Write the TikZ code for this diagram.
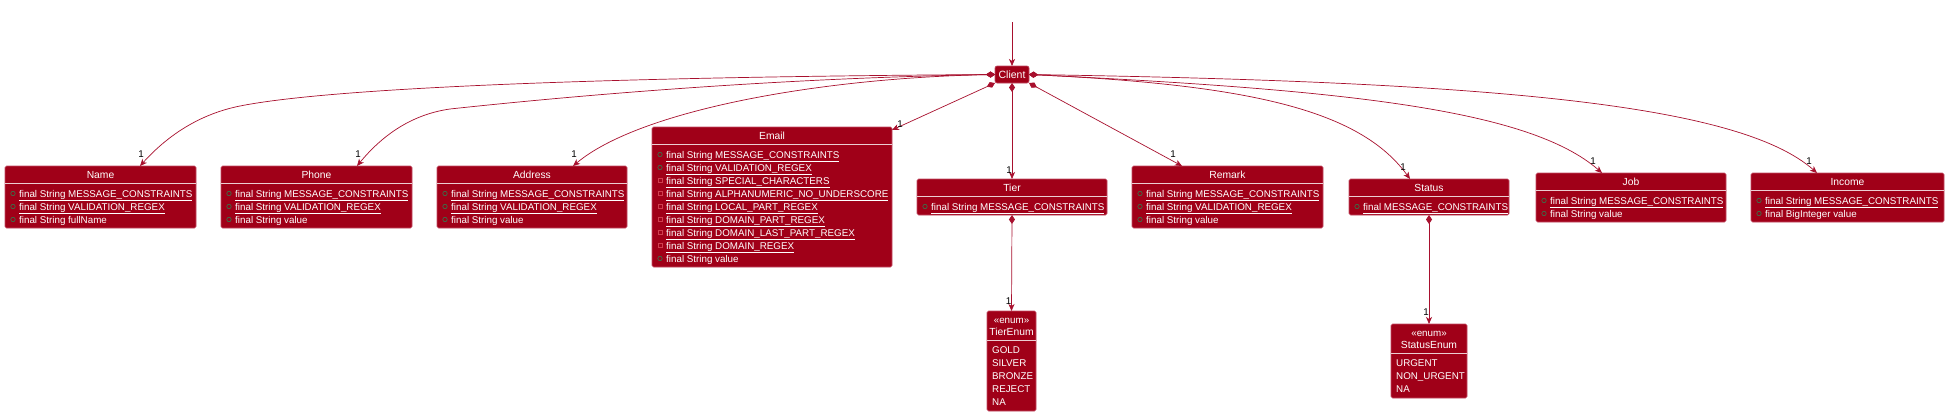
\documentclass[tikz,border=0pt]{standalone}
\usepackage{fontspec}
\setmainfont{Liberation Sans}
\usetikzlibrary{arrows.meta,calc}
\definecolor{clsfill}{HTML}{A00018}
\definecolor{clsline}{HTML}{C24A62}
\definecolor{edgecol}{HTML}{A8102E}
\definecolor{pubcol}{HTML}{2E7D4F}
\definecolor{privcol}{HTML}{D04050}
\tikzset{
  cls/.style={draw=clsline, fill=clsfill, line width=0.6pt, inner sep=0pt, outer sep=0pt, rounded corners=1.5pt},
  ttl/.style={text=white, font=\fontsize{10.3}{12}\selectfont, inner sep=0pt, anchor=base},
  fld/.style={text=white, font=\fontsize{9.8}{11}\selectfont, inner sep=0pt, anchor=base west},
  sepl/.style={draw=white!80!clsfill, line width=0.6pt},
  edge/.style={draw=edgecol, line width=0.7pt},
  tipend/.style={edge, -{Stealth[length=7pt,width=6pt,inset=2pt]}},
  comp/.style={edge, {Diamond[length=9pt,width=6pt]}-{Stealth[length=7pt,width=6pt,inset=2pt]}},
  lbl/.style={font=\fontsize{9.8}{11}\selectfont, text=black, inner sep=0pt},
  pubic/.style={draw=pubcol, line width=0.6pt},
  privic/.style={draw=privcol, line width=0.6pt},
}
% id, x, y, w, h, title
\newcommand\umlclass[6]{%
  \node[cls, minimum width=#4pt, minimum height=#5pt, anchor=north west] (#1) at (#2,#3) {};
  \node[ttl] (#1-title) at ($(#1.north west)+(#4/2,12.2)$) {#6};
  \draw[sepl] ($(#1.north west)+(0,17.5)$) -- ($(#1.north east)+(0,17.5)$);
}
% id, x, y, w, h, name
\newcommand\umlenum[6]{%
  \node[cls, minimum width=#4pt, minimum height=#5pt, anchor=north west] (#1) at (#2,#3) {};
  \node[ttl, font=\fontsize{9.8}{11}\selectfont] (#1-st) at ($(#1.north west)+(#4/2,12.5)$) {«enum»};
  \node[ttl] (#1-title) at ($(#1.north west)+(#4/2,24.7)$) {#6};
  \draw[sepl] ($(#1.north west)+(0,29)$) -- ($(#1.north east)+(0,29)$);
}
% id, row centre offset, text
\newcommand\umlpub[3]{%
  \draw[pubic] ($(#1.north west)+(8,#2)$) circle (2.2pt);
  \node[fld] at ($(#1.north west)+(14,#2+3.5)$) {#3};
}
\newcommand\umlpriv[3]{%
  \draw[privic] ($(#1.north west)+(8,#2)+(-2.1,-2.1)$) rectangle ++(4.2,4.2);
  \node[fld] at ($(#1.north west)+(14,#2+3.5)$) {#3};
}
\newcommand\umlval[3]{%
  \node[fld] at ($(#1.north west)+(5,#2+3.5)$) {#3};
}
\begin{document}
\begin{tikzpicture}[x=1pt,y=-1pt]
\useasboundingbox (0,0) rectangle (1946,415);
\fill[white] (0,0) rectangle (1946,415);

% Client
\node[cls, rounded corners=2pt, minimum width=34pt, minimum height=17pt, text=white,
      font=\fontsize{10.5}{12}\selectfont] (Client) at (1012,74.5) {Client};
\coordinate (entry) at (1012,22);

% Name
\umlclass{Name}{5}{166}{191}{62}{Name}
\umlpub{Name}{27.5}{\underline{final String MESSAGE\_CONSTRAINTS}}
\umlpub{Name}{40.5}{\underline{final String VALIDATION\_REGEX}}
\umlpub{Name}{53.5}{final String fullName}

% Phone
\umlclass{Phone}{221}{166}{191}{62}{Phone}
\umlpub{Phone}{27.5}{\underline{final String MESSAGE\_CONSTRAINTS}}
\umlpub{Phone}{40.5}{\underline{final String VALIDATION\_REGEX}}
\umlpub{Phone}{53.5}{final String value}

% Address
\umlclass{Address}{437}{166}{190}{62}{Address}
\umlpub{Address}{27.5}{\underline{final String MESSAGE\_CONSTRAINTS}}
\umlpub{Address}{40.5}{\underline{final String VALIDATION\_REGEX}}
\umlpub{Address}{53.5}{final String value}

% Email
\umlclass{Email}{652}{127}{240}{140}{Email}
\umlpub{Email}{27.5}{\underline{final String MESSAGE\_CONSTRAINTS}}
\umlpub{Email}{40.5}{\underline{final String VALIDATION\_REGEX}}
\umlpriv{Email}{53.5}{\underline{final String SPECIAL\_CHARACTERS}}
\umlpriv{Email}{66.5}{\underline{final String ALPHANUMERIC\_NO\_UNDERSCORE}}
\umlpriv{Email}{79.5}{\underline{final String LOCAL\_PART\_REGEX}}
\umlpriv{Email}{92.5}{\underline{final String DOMAIN\_PART\_REGEX}}
\umlpriv{Email}{105.5}{\underline{final String DOMAIN\_LAST\_PART\_REGEX}}
\umlpriv{Email}{118.5}{\underline{final String DOMAIN\_REGEX}}
\umlpub{Email}{131.5}{final String value}

% Tier
\umlclass{Tier}{917}{179}{190}{36}{Tier}
\umlpub{Tier}{27.5}{\underline{final String MESSAGE\_CONSTRAINTS}}

% Remark
\umlclass{Remark}{1132}{166}{191}{62}{Remark}
\umlpub{Remark}{27.5}{\underline{final String MESSAGE\_CONSTRAINTS}}
\umlpub{Remark}{40.5}{\underline{final String VALIDATION\_REGEX}}
\umlpub{Remark}{53.5}{final String value}

% Status
\umlclass{Status}{1349}{179}{160}{36}{Status}
\umlpub{Status}{27.5}{\underline{final MESSAGE\_CONSTRAINTS}}

% Job
\umlclass{Job}{1536}{173}{190}{49}{Job}
\umlpub{Job}{27.5}{\underline{final String MESSAGE\_CONSTRAINTS}}
\umlpub{Job}{40.5}{final String value}

% Income
\umlclass{Income}{1751}{173}{193}{49}{Income}
\umlpub{Income}{27.5}{\underline{final String MESSAGE\_CONSTRAINTS}}
\umlpub{Income}{40.5}{final BigInteger value}

% TierEnum
\umlenum{TierEnum}{987}{311}{49}{100}{TierEnum}
\umlval{TierEnum}{39}{GOLD}
\umlval{TierEnum}{52}{SILVER}
\umlval{TierEnum}{65}{BRONZE}
\umlval{TierEnum}{78}{REJECT}
\umlval{TierEnum}{91}{NA}

% StatusEnum
\umlenum{StatusEnum}{1391}{324}{76}{74}{StatusEnum}
\umlval{StatusEnum}{39}{URGENT}
\umlval{StatusEnum}{52}{NON\_URGENT}
\umlval{StatusEnum}{65}{NA}

% connectors
\draw[tipend] (entry) -- (Client.north);

\draw[comp] (Client.west) .. controls (600,77) and (330,88) .. (240,106)
  .. controls (200,114) and (168,135) .. ([xshift=135pt]Name.north west)
  node[lbl, pos=1, xshift=1pt, yshift=11.5pt] {1};
\draw[comp] (Client.west) .. controls (780,78) and (580,95) .. (450,109)
  .. controls (415,114) and (385,132) .. ([xshift=136pt]Phone.north west)
  node[lbl, pos=1, xshift=1pt, yshift=11.5pt] {1};
\draw[comp] (Client.west) .. controls (820,78) and (640,110) .. ([xshift=136pt]Address.north west)
  node[lbl, pos=1, xshift=1pt, yshift=11.5pt] {1};
\draw[comp] (Client.south west) -- ([yshift=-3pt]Email.north east)
  node[lbl, pos=1, xshift=8pt, yshift=6pt] {1};
\draw[comp] (Client.south) -- (Tier.north)
  node[lbl, pos=1, xshift=-3pt, yshift=9pt] {1};
\draw[comp] (Client.south east) -- ([xshift=50pt]Remark.north west)
  node[lbl, pos=1, xshift=-9pt, yshift=12pt] {1};
\draw[comp] (Client.east) .. controls (1250,85) and (1360,110) .. ([xshift=61pt]Status.north west)
  node[lbl, pos=1, xshift=-7pt, yshift=12pt] {1};
\draw[comp] (Client.east) .. controls (1350,90) and (1530,110) .. ([xshift=66pt]Job.north west)
  node[lbl, pos=1, xshift=-9pt, yshift=12pt] {1};
\draw[comp] (Client.east) .. controls (1500,82) and (1740,105) .. ([xshift=66pt]Income.north west)
  node[lbl, pos=1, xshift=-8pt, yshift=12pt] {1};
\draw[comp] (Tier.south) -- (TierEnum.north)
  node[lbl, pos=1, xshift=-3pt, yshift=10pt] {1};
\draw[comp] (Status.south) -- (StatusEnum.north)
  node[lbl, pos=1, xshift=-3pt, yshift=12pt] {1};
\end{tikzpicture}
\end{document}
